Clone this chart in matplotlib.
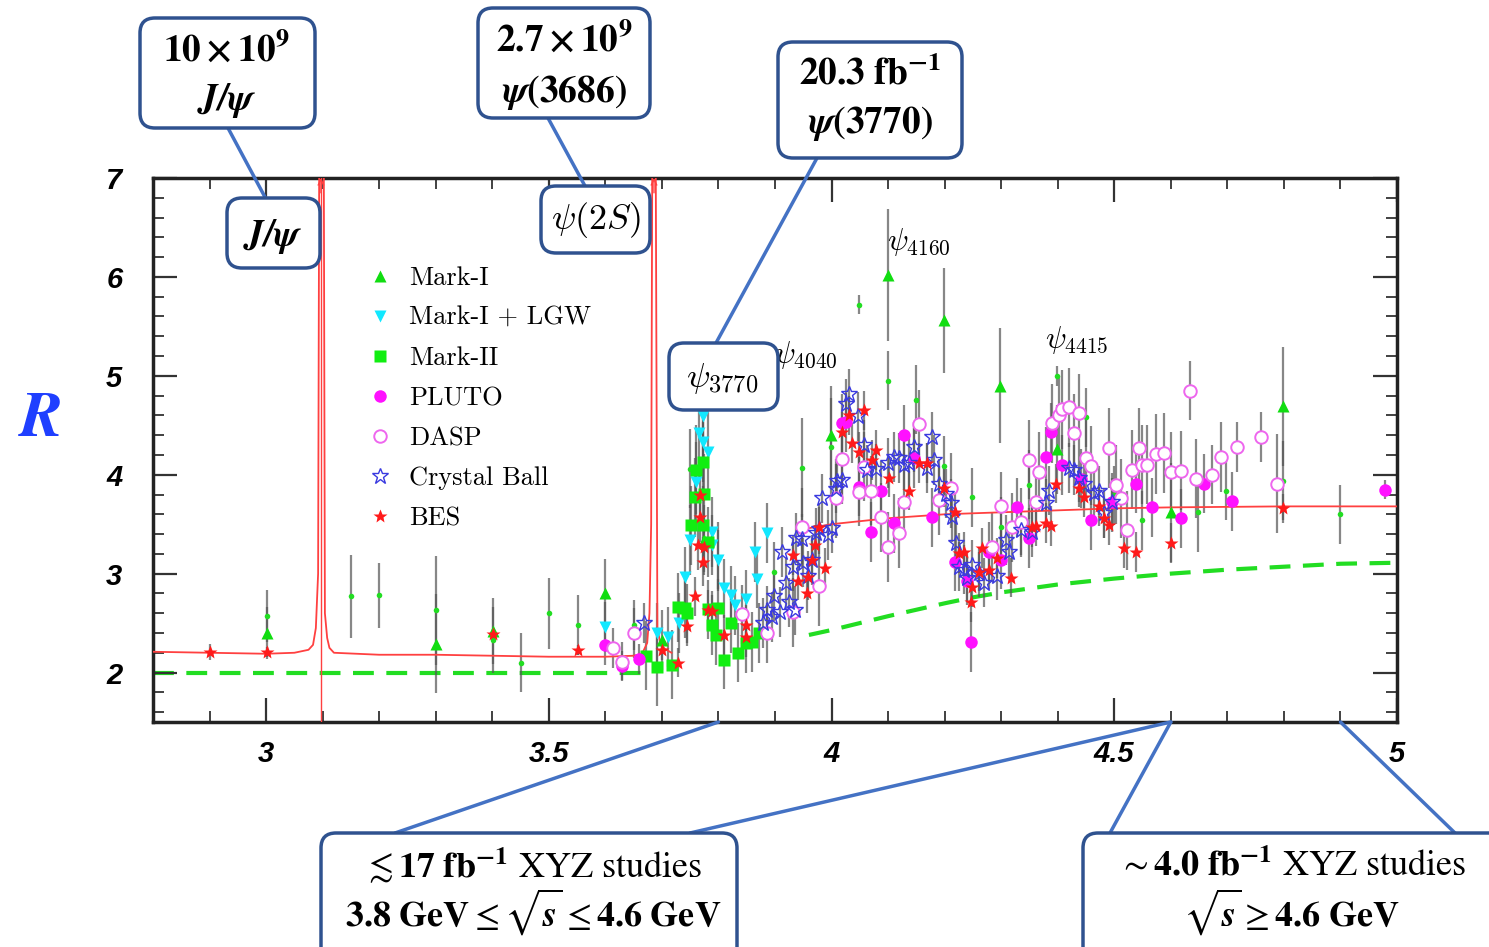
import matplotlib
matplotlib.use("Agg")
import matplotlib.pyplot as plt
import numpy as np
from matplotlib.patches import FancyBboxPatch
from matplotlib.lines import Line2D
from matplotlib.transforms import IdentityTransform
from matplotlib.ticker import MultipleLocator

plt.rcParams['mathtext.fontset'] = 'stix'

W, H = 1489, 947

# --- DATA: (sqrt(s) [GeV], R, error) ---
MARK_I = [(3.001, 2.40, 0.26), (3.300, 2.29, 0.50), (3.401, 2.42, 0.33), (3.599, 2.80, 0.35),
          (3.701, 2.33, 0.30), (3.775, 3.34, 0.35), (3.999, 4.40, 0.50), (4.099, 6.02, 0.67),
          (4.199, 5.56, 0.53), (4.298, 4.90, 0.58), (4.399, 4.26, 0.45), (4.600, 3.62, 0.50),
          (4.798, 4.69, 0.60)]

OTHER = [(3.001, 2.57, 0.26), (3.150, 2.77, 0.42), (3.199, 2.78, 0.33), (3.300, 2.63, 0.55),
         (3.401, 2.33, 0.33), (3.450, 2.10, 0.30), (3.500, 2.60, 0.36), (3.551, 2.48, 0.30),
         (3.650, 2.48, 0.25), (3.749, 4.06, 0.40), (3.800, 3.17, 0.35), (3.899, 3.02, 0.30),
         (3.948, 4.07, 0.50), (3.999, 4.28, 0.50), (4.049, 5.72, 0.10), (4.099, 4.95, 0.30),
         (4.150, 4.76, 0.35), (4.199, 4.09, 0.30), (4.249, 3.77, 0.30), (4.300, 3.47, 0.30),
         (4.349, 3.90, 0.35), (4.399, 5.00, 0.10), (4.450, 4.58, 0.30), (4.500, 3.79, 0.30),
         (4.549, 3.54, 0.30), (4.648, 3.62, 0.40), (4.697, 3.84, 0.30), (4.798, 3.94, 0.40),
         (4.899, 3.60, 0.30)]

MARK_I_LGW = [(3.599, 2.46, 0.25), (3.692, 2.40, 0.30), (3.710, 2.36, 0.30), (3.731, 2.50, 0.30),
              (3.740, 2.97, 0.30), (3.749, 3.34, 0.35), (3.761, 3.93, 0.40), (3.765, 4.42, 0.45),
              (3.772, 4.33, 0.40), (3.773, 4.59, 0.45), (3.781, 4.23, 0.40), (3.788, 3.42, 0.35),
              (3.789, 3.29, 0.30), (3.800, 3.14, 0.30), (3.809, 2.85, 0.30), (3.823, 2.78, 0.30),
              (3.830, 2.68, 0.30), (3.848, 2.74, 0.30), (3.864, 3.22, 0.30), (3.869, 2.95, 0.30),
              (3.885, 3.41, 0.30)]

MARK_II = [(3.671, 2.17, 0.35), (3.692, 2.06, 0.40), (3.717, 2.08, 0.35), (3.728, 2.66, 0.35),
           (3.740, 2.65, 0.30), (3.745, 2.60, 0.30), (3.752, 3.49, 0.40), (3.758, 3.77, 0.40),
           (3.761, 4.05, 0.45), (3.772, 4.13, 0.40), (3.773, 3.49, 0.40), (3.775, 3.81, 0.40),
           (3.781, 3.32, 0.35), (3.781, 2.64, 0.30), (3.789, 2.48, 0.30), (3.795, 2.38, 0.30),
           (3.800, 2.65, 0.30), (3.809, 2.13, 0.30), (3.823, 2.50, 0.30), (3.835, 2.20, 0.30),
           (3.848, 2.30, 0.30), (3.860, 2.31, 0.30), (3.872, 2.40, 0.30)]

PLUTO = [(3.599, 2.28, 0.20), (3.629, 2.07, 0.15), (3.660, 2.14, 0.15), (4.019, 4.52, 0.30),
         (4.026, 4.53, 0.30), (4.049, 3.88, 0.30), (4.070, 3.42, 0.30), (4.088, 3.84, 0.30),
         (4.111, 3.51, 0.30), (4.129, 4.40, 0.30), (4.146, 4.17, 0.30), (4.178, 3.57, 0.30),
         (4.219, 3.12, 0.30), (4.240, 2.93, 0.25), (4.247, 2.31, 0.30), (4.279, 3.22, 0.30),
         (4.300, 3.14, 0.30), (4.328, 3.67, 0.30), (4.349, 3.36, 0.30), (4.380, 4.18, 0.30),
         (4.388, 4.43, 0.30), (4.408, 4.10, 0.30), (4.441, 3.96, 0.30), (4.459, 3.54, 0.30),
         (4.496, 3.72, 0.30), (4.539, 3.91, 0.30), (4.567, 3.67, 0.30), (4.618, 3.56, 0.30),
         (4.659, 3.91, 0.30), (4.708, 3.73, 0.30), (4.978, 3.85, 0.10)]

DASP = [(3.613, 2.25, 0.20), (3.629, 2.11, 0.20), (3.650, 2.40, 0.25), (3.842, 2.59, 0.30),
        (3.885, 2.40, 0.30), (3.931, 2.61, 0.35), (3.948, 3.47, 0.40), (3.977, 2.87, 0.40),
        (4.008, 3.76, 0.40), (4.019, 4.16, 0.40), (4.049, 3.83, 0.35), (4.058, 4.08, 0.35),
        (4.070, 3.84, 0.35), (4.088, 3.57, 0.35), (4.099, 3.27, 0.35), (4.120, 3.41, 0.35),
        (4.129, 3.72, 0.35), (4.155, 4.51, 0.35), (4.190, 3.74, 0.35), (4.212, 3.87, 0.35),
        (4.284, 3.27, 0.35), (4.300, 3.68, 0.35), (4.319, 3.47, 0.35), (4.335, 3.52, 0.35),
        (4.349, 4.15, 0.40), (4.362, 3.72, 0.35), (4.367, 4.03, 0.40), (4.390, 4.52, 0.40),
        (4.402, 4.60, 0.40), (4.408, 4.66, 0.40), (4.420, 4.68, 0.40), (4.429, 4.42, 0.40),
        (4.438, 4.62, 0.40), (4.450, 4.17, 0.40), (4.459, 4.09, 0.40), (4.491, 4.27, 0.40),
        (4.503, 3.90, 0.40), (4.512, 3.76, 0.40), (4.523, 3.44, 0.40), (4.531, 4.05, 0.40),
        (4.544, 4.27, 0.40), (4.549, 4.10, 0.40), (4.558, 4.10, 0.40), (4.574, 4.21, 0.40),
        (4.588, 4.22, 0.40), (4.600, 4.03, 0.40), (4.618, 4.04, 0.40), (4.634, 4.85, 0.30),
        (4.645, 3.96, 0.40), (4.673, 4.00, 0.30), (4.689, 4.18, 0.35), (4.717, 4.28, 0.25),
        (4.759, 4.38, 0.25), (4.788, 3.91, 0.50)]

CRYSTAL_BALL = [(3.669, 2.50, 0.20), (3.878, 2.50, 0.25), (3.885, 2.63, 0.25), (3.894, 2.56, 0.25),
                (3.899, 2.77, 0.25), (3.908, 2.61, 0.25), (3.913, 3.22, 0.25), (3.920, 2.91, 0.25),
                (3.925, 2.71, 0.25), (3.931, 3.07, 0.25), (3.936, 2.63, 0.25), (3.938, 3.36, 0.25),
                (3.948, 3.35, 0.25), (3.950, 3.11, 0.25), (3.959, 2.98, 0.25), (3.966, 3.14, 0.25),
                (3.973, 3.41, 0.25), (3.978, 3.45, 0.25), (3.984, 3.76, 0.25), (3.993, 3.39, 0.25),
                (4.001, 3.46, 0.25), (4.008, 3.86, 0.25), (4.010, 3.94, 0.25), (4.019, 3.95, 0.25),
                (4.026, 4.72, 0.25), (4.031, 4.82, 0.25), (4.046, 4.59, 0.25), (4.058, 4.30, 0.25),
                (4.063, 4.05, 0.25), (4.079, 4.06, 0.25), (4.099, 4.12, 0.25), (4.111, 4.18, 0.25),
                (4.120, 4.17, 0.25), (4.129, 4.10, 0.25), (4.137, 4.12, 0.25), (4.146, 4.28, 0.25),
                (4.169, 4.07, 0.25), (4.178, 4.38, 0.25), (4.182, 4.15, 0.25), (4.190, 3.91, 0.25),
                (4.203, 3.81, 0.25), (4.212, 3.71, 0.25), (4.213, 3.57, 0.25), (4.220, 3.31, 0.25),
                (4.226, 3.07, 0.25), (4.235, 3.04, 0.25), (4.240, 2.96, 0.25), (4.249, 3.09, 0.25),
                (4.261, 3.01, 0.25), (4.270, 2.91, 0.25), (4.293, 2.98, 0.25), (4.309, 3.34, 0.25),
                (4.314, 3.22, 0.25), (4.335, 3.44, 0.25), (4.355, 3.42, 0.25), (4.380, 3.71, 0.25),
                (4.385, 3.84, 0.25), (4.420, 4.07, 0.25), (4.429, 4.05, 0.25), (4.438, 3.97, 0.25),
                (4.447, 3.91, 0.25), (4.464, 3.82, 0.25), (4.473, 3.84, 0.25), (4.482, 3.61, 0.25),
                (4.496, 3.72, 0.25)]

BES = [(2.901, 2.21, 0.08), (3.001, 2.21, 0.05), (3.401, 2.39, 0.05), (3.551, 2.23, 0.05),
       (3.701, 2.23, 0.10), (3.729, 2.10, 0.15), (3.745, 2.47, 0.20), (3.759, 2.77, 0.20),
       (3.763, 3.29, 0.25), (3.768, 3.57, 0.25), (3.768, 3.80, 0.25), (3.772, 3.12, 0.25),
       (3.775, 3.27, 0.25), (3.781, 2.63, 0.20), (3.789, 2.62, 0.20), (3.809, 2.38, 0.20),
       (3.848, 2.36, 0.20), (3.849, 2.48, 0.20), (3.931, 3.19, 0.20), (3.940, 2.93, 0.20),
       (3.957, 2.80, 0.20), (3.959, 2.97, 0.20), (3.966, 3.14, 0.20), (3.971, 3.29, 0.20),
       (3.978, 3.47, 0.20), (3.989, 3.06, 0.20), (4.019, 4.43, 0.20), (4.031, 4.60, 0.20),
       (4.037, 4.32, 0.20), (4.049, 4.23, 0.20), (4.058, 4.65, 0.20), (4.072, 4.15, 0.20),
       (4.079, 4.25, 0.20), (4.102, 3.97, 0.20), (4.137, 3.84, 0.20), (4.155, 4.12, 0.20),
       (4.169, 4.12, 0.20), (4.199, 3.87, 0.20), (4.219, 3.62, 0.20), (4.226, 3.21, 0.20),
       (4.235, 3.22, 0.20), (4.247, 2.71, 0.20), (4.249, 2.86, 0.20), (4.261, 3.02, 0.20),
       (4.266, 3.26, 0.20), (4.279, 3.04, 0.20), (4.293, 3.16, 0.20), (4.318, 2.96, 0.20),
       (4.355, 3.47, 0.20), (4.362, 3.48, 0.20), (4.380, 3.51, 0.20), (4.388, 3.48, 0.20),
       (4.397, 3.91, 0.20), (4.438, 3.87, 0.20), (4.447, 3.77, 0.20), (4.473, 3.68, 0.20),
       (4.482, 3.56, 0.20), (4.491, 3.49, 0.20), (4.517, 3.26, 0.20), (4.539, 3.22, 0.20),
       (4.600, 3.31, 0.20), (4.798, 3.66, 0.15)]

# theory curves (red solid) and parton model (green dashed)
R_LOW_X = [2.80, 2.90, 3.00, 3.05, 3.075, 3.083, 3.088, 3.092, 3.094, 3.102, 3.104, 3.108, 3.112,
           3.120, 3.20, 3.30, 3.40, 3.50, 3.60, 3.65, 3.665, 3.674, 3.678, 3.681, 3.683, 3.689,
           3.692, 3.697, 3.705, 3.717]
R_LOW_Y = [2.21, 2.20, 2.19, 2.20, 2.23, 2.28, 2.45, 3.0, 7.3, 7.3, 2.6, 2.35, 2.25,
           2.20, 2.18, 2.18, 2.17, 2.16, 2.16, 2.17, 2.19, 2.30, 2.60, 3.5, 7.3, 7.3,
           2.45, 2.30, 2.24, 2.20]
R_HIGH_X = [3.96, 4.00, 4.10, 4.20, 4.30, 4.40, 4.50, 4.60, 4.80, 5.00]
R_HIGH_Y = [3.46, 3.50, 3.56, 3.60, 3.62, 3.64, 3.66, 3.67, 3.68, 3.68]
PARTON_LOW_X = [2.80, 3.67]
PARTON_LOW_Y = [2.00, 2.00]
PARTON_HIGH_X = [3.96, 4.00, 4.10, 4.20, 4.25, 4.30, 4.40, 4.50, 4.60, 4.70, 4.80, 4.90, 5.00]
PARTON_HIGH_Y = [2.38, 2.43, 2.57, 2.70, 2.76, 2.81, 2.89, 2.95, 3.00, 3.04, 3.07, 3.10, 3.11]
RES_MASS = [3.097, 3.686]

X_TICKS = [3, 3.5, 4, 4.5, 5]
X_LABELS = ["3", "3.5", "4", "4.5", "5"]
Y_TICKS = [2, 3, 4, 5, 6, 7]

PEAK_NAMES = [r'$\psi_{4040}$', r'$\psi_{4160}$', r'$\psi_{4415}$']
PEAK_POS = [(3.955, 5.21), (4.155, 6.35), (4.433, 5.36)]

BOX_EC = '#2f528f'
LINE_C = '#4472c4'

fig = plt.figure(figsize=(W / 100, H / 100), dpi=100)
ax = fig.add_axes([153 / W, 1 - 722 / H, 1244 / W, 544 / H])


def draw(series, **kw):
    x, y, e = np.array(series).T
    ax.errorbar(x, y, yerr=e, fmt='none', ecolor='#555555', elinewidth=1.6, alpha=0.7, zorder=2)
    return ax.plot(x, y, ls='none', zorder=4, **kw)[0]


# curves
ax.plot(PARTON_LOW_X, PARTON_LOW_Y, color='#22dd22', lw=3, dashes=(5, 3), zorder=1)
ax.plot(PARTON_HIGH_X, PARTON_HIGH_Y, color='#22dd22', lw=3, dashes=(5, 3), zorder=1)
ax.plot(R_LOW_X, R_LOW_Y, color='#ff4040', lw=1.3, zorder=3)
ax.plot(R_HIGH_X, R_HIGH_Y, color='#ff4040', lw=1.3, zorder=3)
ax.plot([RES_MASS[0]] * 2, [1.5, 7.0], color='#ff4040', lw=1.0, zorder=3)
for m in RES_MASS:
    ax.annotate('', xy=(m, 7.0), xytext=(m, 6.85),
                arrowprops=dict(arrowstyle='->', color='#ff4040', lw=1.0, shrinkA=0, shrinkB=0))

# data
draw(OTHER, marker='o', ms=4, color='#22dd22', mec='none')
h_m1 = draw(MARK_I, marker='^', ms=9, color='#11dd11', mec='none')
h_lgw = draw(MARK_I_LGW, marker='v', ms=9, color='#11e8ff', mec='none')
h_m2 = draw(MARK_II, marker='s', ms=8, color='#11ee11', mec='none')
h_pl = draw(PLUTO, marker='o', ms=9, color='#ff11ff', mec='none')
h_da = draw(DASP, marker='o', ms=9, mfc='white', mec='#ee66ee', mew=1.4)
h_cb = draw(CRYSTAL_BALL, marker='*', ms=12, mfc='none', mec='#3a3ae0', mew=1.0)
h_bes = draw(BES, marker='*', ms=10, color='#ff1a1a', mec='none')

for name, (px, py) in zip(PEAK_NAMES, PEAK_POS):
    ax.text(px, py, name, fontsize=22, ha='center', va='center', math_fontfamily='cm', zorder=5)

ax.set_xlim(2.8, 5.0)
ax.set_ylim(1.5, 7.0)
ax.set_xticks(X_TICKS, labels=X_LABELS)
ax.set_yticks(Y_TICKS)
ax.xaxis.set_minor_locator(MultipleLocator(0.1))
ax.yaxis.set_minor_locator(MultipleLocator(0.2))
ax.tick_params(which='both', direction='in', top=True, right=True, color='#333333')
ax.tick_params(which='major', length=17, width=1.6)
ax.tick_params(which='minor', length=8, width=1.3)
ax.tick_params(axis='x', pad=13)
ax.tick_params(axis='y', pad=22)
for tl in ax.get_xticklabels() + ax.get_yticklabels():
    tl.set_fontfamily('Liberation Sans')
    tl.set_fontweight('bold')
    tl.set_fontstyle('italic')
    tl.set_fontsize(21)
for s in ax.spines.values():
    s.set_linewidth(2.5)
    s.set_color('#222222')

ax.legend([h_m1, h_lgw, h_m2, h_pl, h_da, h_cb, h_bes],
          ['Mark-I', 'Mark-I + LGW', 'Mark-II', 'PLUTO', 'DASP', 'Crystal Ball', 'BES'],
          loc='upper left', bbox_to_anchor=(0.172, 0.838), frameon=False, numpoints=1,
          prop={'family': 'cmr10', 'size': 19}, handlelength=1.0, handletextpad=0.6,
          labelspacing=0.62, borderpad=0, borderaxespad=0)

fig.text(40 / W, 1 - 418 / H, r'$\mathbfit{R}$', fontsize=46, color='#1f3fff',
         ha='center', va='center')


# annotation boxes (pixel positions in the picture)
def box(x0, y0, x1, y1):
    fig.add_artist(FancyBboxPatch((x0, H - y1), x1 - x0, y1 - y0,
                                  boxstyle='round,pad=0,rounding_size=15',
                                  transform=IdentityTransform(), fc='white', ec=BOX_EC,
                                  lw=2.5, zorder=10))


def label(x, y, s, size=27, **kw):
    fig.text(x / W, 1 - y / H, s, fontsize=size, ha='center', va='center', zorder=11, **kw)


def link(x0, y0, x1, y1):
    fig.add_artist(Line2D([x0, x1], [H - y0, H - y1], transform=IdentityTransform(),
                          color=LINE_C, lw=2.5, zorder=9))


def link_axis(x0, y0, xd):
    ax.annotate('', xy=(xd, 1.5), xycoords='data', xytext=(x0, H - y0),
                textcoords='figure pixels', annotation_clip=False,
                arrowprops=dict(arrowstyle='-', color=LINE_C, lw=2.5, shrinkA=0, shrinkB=0))


link(228, 128, 266, 199)
link(548, 118, 585, 186)
link(817, 158, 716, 343)

box(140, 18, 315, 128)
label(227, 50, r'$\mathbf{10\times10^{9}}$')
label(227, 100, r'$\mathbfit{J/\psi}$')
box(478, 8, 650, 118)
label(564, 40, r'$\mathbf{2.7\times10^{9}}$')
label(564, 92, r'$\mathbfit{\psi}\mathbf{(3686)}$')
box(778, 42, 962, 158)
label(870, 74, r'$\mathbf{20.3\ fb^{-1}}$')
label(870, 123, r'$\mathbfit{\psi}\mathbf{(3770)}$')

box(227, 198, 320, 268)
label(273, 236, r'$\mathbfit{J/\psi}$')
box(541, 186, 650, 253)
label(596, 220, r'$\psi(2S)$', size=26, math_fontfamily='cm')
box(669, 343, 778, 410)
label(722, 378, r'$\psi_{3770}$', size=25, math_fontfamily='cm')

link_axis(395, 833, 3.8)
link_axis(690, 833, 4.6)
link_axis(1110, 833, 4.6)
link_axis(1455, 833, 4.9)

box(321, 833, 737, 965)
label(533, 866, r'$\lesssim\mathbf{17\ fb^{-1}}$ XYZ studies', size=26, family='STIXGeneral')
label(533, 912, r'$\mathbf{3.8\ GeV}\leq\sqrt{\mathbfit{s}}\leq\mathbf{4.6\ GeV}$', size=26)
box(1083, 833, 1510, 965)
label(1292, 866, r'$\sim\mathbf{4.0\ fb^{-1}}$ XYZ studies', size=26, family='STIXGeneral')
label(1292, 912, r'$\sqrt{\mathbfit{s}}\geq\mathbf{4.6\ GeV}$', size=26)

fig.savefig('out.png', dpi=100)
